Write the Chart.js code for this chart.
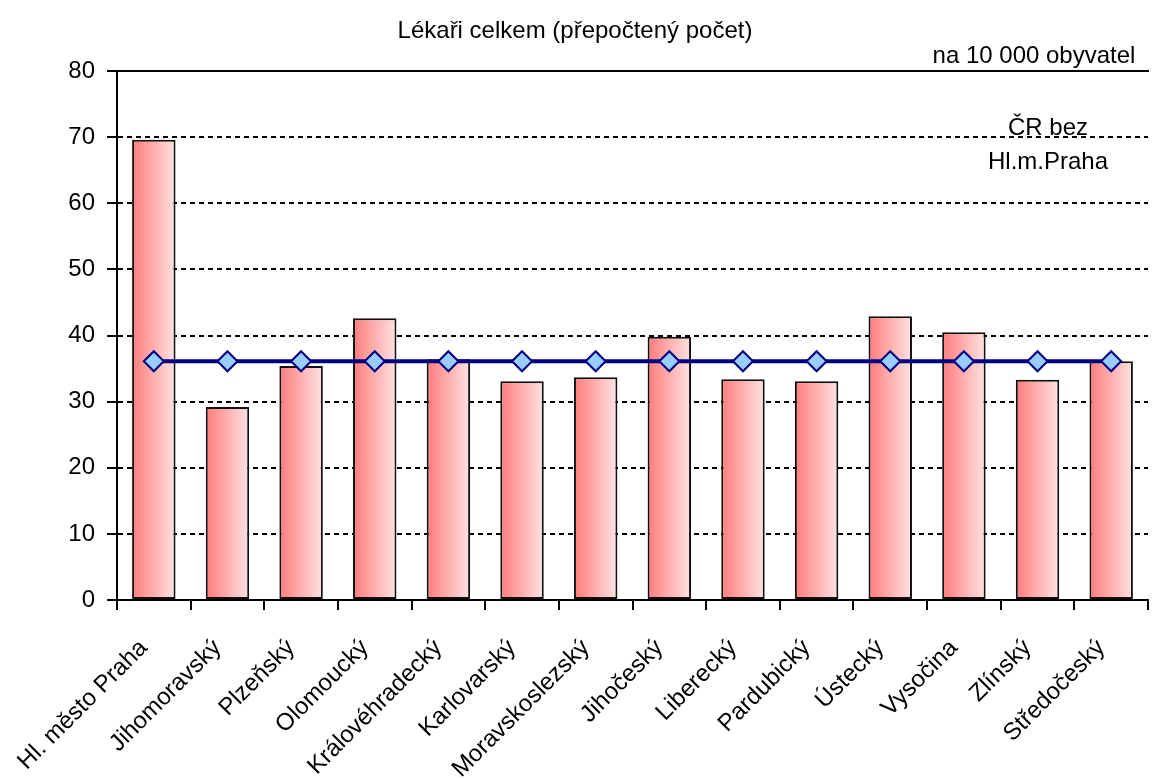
<!DOCTYPE html>
<html>
<head>
<meta charset="utf-8">
<script src="https://cdn.jsdelivr.net/npm/chart.js@4/dist/chart.umd.min.js"></script>
<style>
html,body{margin:0;padding:0;background:#fff;overflow:hidden;}
#wrap{width:1150px;height:779px;overflow:hidden;}
canvas{display:block;}
</style>
</head>
<body>
<div id="wrap"><canvas id="c" width="1160" height="779"></canvas></div>
<script>
const categories = ["Hl. město Praha","Jihomoravský","Plzeňský","Olomoucký","Královéhradecký","Karlovarský","Moravskoslezský","Jihočeský","Liberecký","Pardubický","Ústecký","Vysočina","Zlínský","Středočeský"];
const regionValues = [69.6, 29.2, 35.4, 42.6, 36.4, 33.1, 33.7, 39.8, 33.4, 33.1, 42.9, 40.5, 33.3, 36.1];
const crWithoutPraha = [36.1, 36.1, 36.1, 36.1, 36.1, 36.1, 36.1, 36.1, 36.1, 36.1, 36.1, 36.1, 36.1, 36.1];
const yTicks = [0, 10, 20, 30, 40, 50, 60, 70, 80];
const titleText = "Lékaři celkem (přepočtený počet)";
const unitText = "na 10 000 obyvatel";
const lineLabel = ["ČR bez", "Hl.m.Praha"];

const FONT = '"Liberation Sans", Arial, sans-serif';

function barGradient(ctx) {
  const chart = ctx.chart;
  const xs = chart.scales.x;
  if (!xs || ctx.dataIndex === undefined) return '#ff9a9a';
  const cx = xs.getPixelForValue(ctx.dataIndex);
  const w = (xs.width / categories.length) * 0.59;
  if (!isFinite(cx) || !isFinite(w) || w <= 0) return '#ff9a9a';
  const g = chart.ctx.createLinearGradient(cx - w / 2, 0, cx + w / 2, 0);
  g.addColorStop(0, '#ff7b7b');
  g.addColorStop(1, '#ffe3e3');
  return g;
}

const textPlugin = {
  id: 'texts',
  afterDraw(chart) {
    const c = chart.ctx;
    c.save();
    c.fillStyle = '#000';
    c.font = '24px ' + FONT;
    c.textAlign = 'center';
    c.textBaseline = 'alphabetic';
    c.fillText(titleText, 575, 38);
    c.fillText(unitText, 1034, 63);
    c.fillText(lineLabel[0], 1048, 135);
    c.fillText(lineLabel[1], 1048, 169);
    c.restore();
  }
};

new Chart(document.getElementById('c'), {
  type: 'bar',
  data: {
    labels: categories,
    datasets: [
      {
        type: 'line',
        label: 'ČR bez Hl.m.Praha',
        data: crWithoutPraha,
        borderColor: '#000080',
        borderWidth: 4,
        pointStyle: 'rectRot',
        pointRadius: 10,
        pointBorderWidth: 2,
        pointBackgroundColor: '#99ccff',
        pointBorderColor: '#000080',
        tension: 0,
        order: 0
      },
      {
        type: 'bar',
        label: 'Lékaři',
        data: regionValues,
        backgroundColor: barGradient,
        borderColor: '#111',
        borderWidth: 2,
        borderSkipped: false,
        barPercentage: 0.59,
        categoryPercentage: 1.0,
        order: 1
      }
    ]
  },
  options: {
    responsive: false,
    animation: false,
    layout: { padding: { top: 71, left: 0, right: 0, bottom: 0 } },
    plugins: {
      legend: { display: false },
      title: { display: false },
      tooltip: { enabled: false }
    },
    scales: {
      x: {
        offset: true,
        grid: { display: true, drawOnChartArea: false, drawTicks: true, tickLength: 10, color: '#000', lineWidth: 2, offset: true },
        border: { display: true, color: '#000', width: 2 },
        ticks: { color: '#000', font: { family: FONT, size: 24 }, minRotation: 45, maxRotation: 45, padding: 24, labelOffset: -10, autoSkip: false },
        afterFit(s) { s.height = 179; }
      },
      x2: {
        position: 'top',
        display: true,
        grid: { display: false, drawTicks: false },
        ticks: { display: false },
        border: { display: true, color: '#000', width: 2 },
        afterFit(s) { s.height = 0; }
      },
      y: {
        min: 0, max: 80,
        afterBuildTicks(s) { s.ticks = yTicks.map(v => ({ value: v })); },
        grid: { color: '#000', lineWidth: 2, drawTicks: true, tickLength: 10, tickColor: '#000', tickWidth: 2 },
        border: { display: true, color: '#000', width: 2, dash: [5, 4] },
        ticks: { color: '#000', font: { family: FONT, size: 24 }, padding: 12 },
        afterFit(s) { s.width = 117; }
      }
    }
  },
  plugins: [textPlugin]
});
</script>
</body>
</html>
